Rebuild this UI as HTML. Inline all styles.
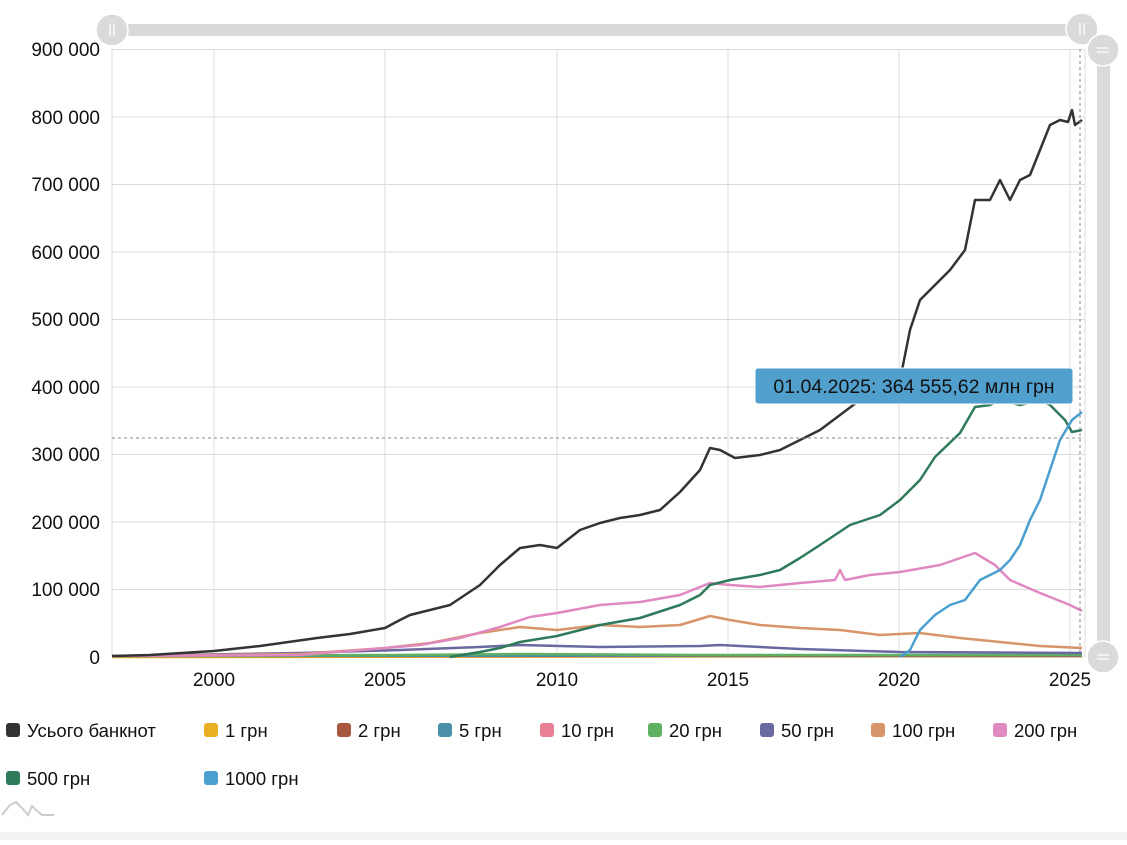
<!DOCTYPE html>
<html><head><meta charset="utf-8"><style>
body{margin:0;background:#fff;font-family:"Liberation Sans",sans-serif}
</style></head><body>
<svg width="1127" height="840" xmlns="http://www.w3.org/2000/svg" font-family="Liberation Sans, sans-serif">
<rect width="1127" height="840" fill="#fff"/>
<g stroke="#dcdcdc" stroke-width="1">
<line x1="112" y1="49.5" x2="1085" y2="49.5"/><line x1="112" y1="117" x2="1085" y2="117"/><line x1="112" y1="184.5" x2="1085" y2="184.5"/><line x1="112" y1="252" x2="1085" y2="252"/><line x1="112" y1="319.5" x2="1085" y2="319.5"/><line x1="112" y1="387" x2="1085" y2="387"/><line x1="112" y1="454.5" x2="1085" y2="454.5"/><line x1="112" y1="522" x2="1085" y2="522"/><line x1="112" y1="589.5" x2="1085" y2="589.5"/><line x1="112" y1="657" x2="1085" y2="657"/>
<line x1="214" y1="49" x2="214" y2="657"/><line x1="385" y1="49" x2="385" y2="657"/><line x1="557" y1="49" x2="557" y2="657"/><line x1="728" y1="49" x2="728" y2="657"/><line x1="899" y1="49" x2="899" y2="657"/><line x1="1070" y1="49" x2="1070" y2="657"/>
<line x1="112" y1="49" x2="112" y2="657"/><line x1="1085" y1="49" x2="1085" y2="657"/>
</g>
<g font-size="19" fill="#111" text-anchor="end">
<text x="100" y="56">900 000</text><text x="100" y="124">800 000</text><text x="100" y="191">700 000</text><text x="100" y="259">600 000</text><text x="100" y="326">500 000</text><text x="100" y="394">400 000</text><text x="100" y="461">300 000</text><text x="100" y="529">200 000</text><text x="100" y="596">100 000</text><text x="100" y="664">0</text>
</g>
<g font-size="19" fill="#111" text-anchor="middle">
<text x="214" y="686">2000</text><text x="385" y="686">2005</text><text x="557" y="686">2010</text><text x="728" y="686">2015</text><text x="899" y="686">2020</text><text x="1070" y="686">2025</text>
</g>
<g fill="none" stroke-width="2.5" stroke-linejoin="round">
<polyline stroke="#e8b020" points="112,657 1082,656"/>
<polyline stroke="#a85840" points="112,656 1082,656"/>
<polyline stroke="#4a8fa8" points="112,656 1082,655"/>
<polyline stroke="#5fb060" points="112,656 400,655 520,654 700,655 1082,655"/>
<polyline stroke="#6a68a0" points="112,656 300,653 400,650 480,647 520,645 560,646 600,647 700,646 720,645 800,649 900,652 1082,653"/>
<polyline stroke="#d8946a" points="112,656 300,654 385,648 430,643 480,633 520,627 557,630 600,625 640,627 680,625 710,616 730,620 760,625 800,628 840,630 880,635 920,633 960,638 1000,642 1040,646 1082,648"/>
<polyline stroke="#e088c0" points="112,656 300,655 385,648 420,645 460,638 500,627 530,617 557,613 600,605 640,602 680,595 710,583 730,585 760,587 800,583 835,580 840,570 845,580 870,575 900,572 940,565 975,553 995,565 1010,580 1040,593 1070,605 1082,611"/>
<polyline stroke="#2e7a5a" points="450,657 480,652 500,648 520,642 557,636 600,625 640,618 680,605 700,595 710,585 730,580 760,575 780,570 800,558 820,545 850,525 880,515 900,500 920,480 935,457 960,433 975,407 990,405 1000,400 1020,405 1040,400 1050,405 1065,420 1072,432 1082,430"/>
<polyline stroke="#4aa0d0" points="900,657 910,650 920,630 935,615 950,605 965,600 980,580 990,575 1000,570 1010,560 1020,545 1030,520 1040,500 1050,470 1060,440 1072,420 1082,412"/>
<polyline stroke="#333" points="112,656 150,655 214,651 260,646 317,638 350,634 385,628 400,620 410,615 450,605 480,585 500,565 520,548 540,545 557,548 580,530 600,523 620,518 640,515 660,510 680,492 700,470 710,448 720,450 735,458 760,455 780,450 800,440 820,430 840,415 860,400 880,390 900,380 910,330 920,300 935,285 950,270 965,250 975,200 990,200 1000,180 1010,200 1020,180 1030,175 1040,150 1050,125 1060,120 1068,122 1072,110 1075,125 1082,120"/>
</g>
<g stroke="#888" stroke-dasharray="3,3" stroke-width="1">
<line x1="112" y1="438" x2="1082" y2="438"/><line x1="1080" y1="49" x2="1080" y2="657"/>
</g>
<rect x="755" y="368" width="318" height="36" rx="3" fill="#519fcc" stroke="#fff" stroke-width="1"/>
<text x="914" y="393" font-size="19.5" fill="#111" text-anchor="middle">01.04.2025: 364 555,62 млн грн</text>
<rect x="112" y="24" width="970" height="12" fill="#dadada"/>
<circle cx="112" cy="30" r="16" fill="#dadada" stroke="#fff" stroke-width="1.5"/>
<circle cx="1082" cy="29" r="16" fill="#dadada" stroke="#fff" stroke-width="1.5"/>
<rect x="1097" y="50" width="13" height="607" fill="#dadada"/>
<circle cx="1103" cy="50" r="16" fill="#dadada" stroke="#fff" stroke-width="1.5"/>
<circle cx="1103" cy="657" r="16" fill="#dadada" stroke="#fff" stroke-width="1.5"/>
<g stroke="#fff" stroke-width="1.2"><line x1="110" y1="24" x2="110" y2="36"/><line x1="114" y1="24" x2="114" y2="36"/><line x1="1080" y1="23" x2="1080" y2="35"/><line x1="1084" y1="23" x2="1084" y2="35"/><line x1="1097" y1="48" x2="1109" y2="48"/><line x1="1097" y1="52" x2="1109" y2="52"/><line x1="1097" y1="655" x2="1109" y2="655"/><line x1="1097" y1="659" x2="1109" y2="659"/></g>
<g font-size="18.5" fill="#111">
<rect x="6" y="723" width="14" height="14" rx="3" fill="#333"/><text x="27" y="737">Усього банкнот</text>
<rect x="204" y="723" width="14" height="14" rx="3" fill="#e8b020"/><text x="225" y="737">1 грн</text>
<rect x="337" y="723" width="14" height="14" rx="3" fill="#a85840"/><text x="358" y="737">2 грн</text>
<rect x="438" y="723" width="14" height="14" rx="3" fill="#4a8fa8"/><text x="459" y="737">5 грн</text>
<rect x="540" y="723" width="14" height="14" rx="3" fill="#e87f94"/><text x="561" y="737">10 грн</text>
<rect x="648" y="723" width="14" height="14" rx="3" fill="#5fb060"/><text x="669" y="737">20 грн</text>
<rect x="760" y="723" width="14" height="14" rx="3" fill="#6a68a0"/><text x="781" y="737">50 грн</text>
<rect x="871" y="723" width="14" height="14" rx="3" fill="#d8946a"/><text x="892" y="737">100 грн</text>
<rect x="993" y="723" width="14" height="14" rx="3" fill="#e088c0"/><text x="1014" y="737">200 грн</text>
<rect x="6" y="771" width="14" height="14" rx="3" fill="#2e7a5a"/><text x="27" y="785">500 грн</text>
<rect x="204" y="771" width="14" height="14" rx="3" fill="#4aa0d0"/><text x="225" y="785">1000 грн</text>
</g>
<polyline fill="none" stroke="#ccc" stroke-width="2" points="2,815 10,805 16,802 22,808 28,815 32,806 36,810 42,815 54,815"/>
<rect x="0" y="832" width="1127" height="8" fill="#f2f2f2"/>
</svg>
</body></html>
